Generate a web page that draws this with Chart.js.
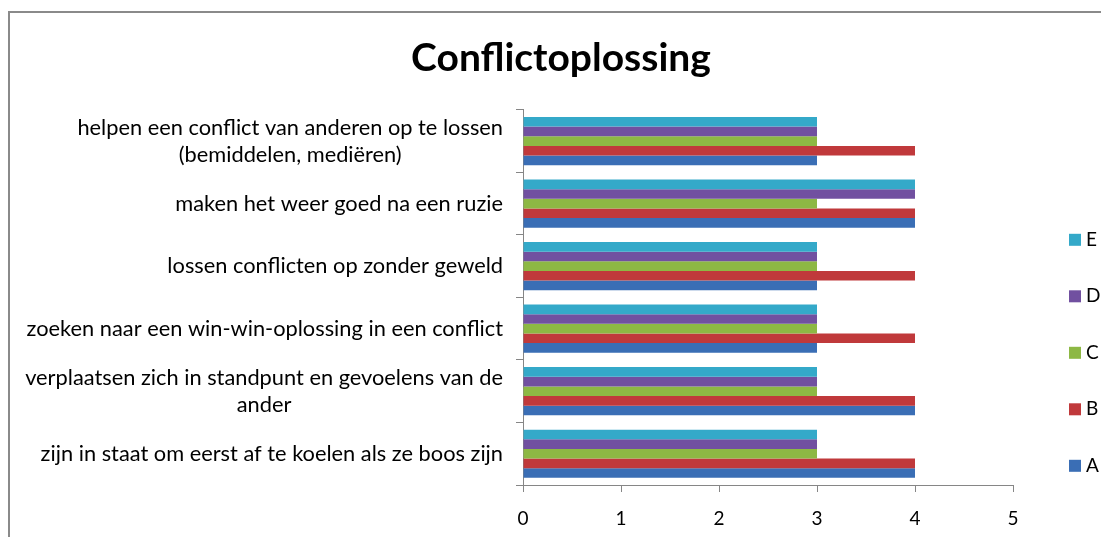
<!DOCTYPE html>
<html>
<head>
<meta charset="utf-8">
<script src="https://cdn.jsdelivr.net/npm/chart.js@4"></script>
<style>
  html, body { margin: 0; padding: 0; background: #fff; overflow: hidden; }
  #frame {
    position: absolute; left: 8px; top: 11px;
    width: 1110px; height: 560px;
    border-left: 2px solid #8a8a8a; border-top: 2px solid #8a8a8a;
  }
  #wrap { position: absolute; left: 0; top: 0; width: 1102px; height: 560px; }
</style>
</head>
<body>
<div id="frame"><div id="wrap"><canvas id="conflictChart"></canvas></div></div>
<script>
// categories, top to bottom as shown
const categories = [
  ['helpen een conflict van anderen op te lossen', '(bemiddelen, mediëren)'],
  'maken het weer goed na een ruzie',
  'lossen conflicten op zonder geweld',
  'zoeken naar een win-win-oplossing in een conflict',
  ['verplaatsen zich in standpunt en gevoelens van de', 'ander'],
  'zijn in staat om eerst af te koelen als ze boos zijn'
];
const seriesA = [3, 4, 3, 3, 4, 4];
const seriesB = [4, 4, 4, 4, 4, 4];
const seriesC = [3, 3, 3, 3, 3, 3];
const seriesD = [3, 4, 3, 3, 3, 3];
const seriesE = [3, 4, 3, 3, 3, 3];
const xTicks = [0, 1, 2, 3, 4, 5];

const FONT = 'Lato';

// category labels, lines centred on each other, block right-aligned to the axis
const yLabelPlugin = {
  id: 'yLabels',
  afterDraw(chart) {
    const ctx = chart.ctx;
    const yScale = chart.scales.y;
    ctx.save();
    ctx.font = '21.8px ' + FONT;
    ctx.fillStyle = '#000';
    ctx.textBaseline = 'middle';
    ctx.textAlign = 'center';
    chart.data.labels.forEach((label, i) => {
      const lines = Array.isArray(label) ? label : [label];
      const maxW = Math.max(...lines.map(l => ctx.measureText(l).width));
      const cx = yScale.right - 20 - maxW / 2;
      const cy = yScale.getPixelForValue(i);
      lines.forEach((l, j) => {
        ctx.fillText(l, cx, cy + (j - (lines.length - 1) / 2) * 27);
      });
    });
    ctx.restore();
  }
};

// legend on the right, spaced out like the original
const sideLegend = {
  id: 'sideLegend',
  afterDraw(chart) {
    const ctx = chart.ctx;
    const area = chart.chartArea;
    ctx.save();
    ctx.font = '19px ' + FONT;
    ctx.textBaseline = 'middle';
    ctx.textAlign = 'left';
    chart.data.datasets.forEach((ds, i) => {
      const y = area.top + 130 + i * 56.5;
      const x = area.right + 56;
      ctx.fillStyle = ds.backgroundColor;
      ctx.fillRect(x, y - 6, 12, 12);
      ctx.fillStyle = '#000';
      ctx.fillText(ds.label, x + 17, y);
    });
    ctx.restore();
  }
};

const ctx = document.getElementById('conflictChart').getContext('2d');
const conflictChart = new Chart(ctx, {
  type: 'bar',
  data: {
    labels: categories,
    datasets: [
      { label: 'E', data: seriesE, backgroundColor: '#34a9c9' },
      { label: 'D', data: seriesD, backgroundColor: '#7150a0' },
      { label: 'C', data: seriesC, backgroundColor: '#8db844' },
      { label: 'B', data: seriesB, backgroundColor: '#c0393b' },
      { label: 'A', data: seriesA, backgroundColor: '#3a6eb5' }
    ]
  },
  options: {
    indexAxis: 'y',
    responsive: true,
    maintainAspectRatio: false,
    animation: false,
    layout: { padding: 0 },
    datasets: {
      bar: { categoryPercentage: 0.77, barPercentage: 1.0 }
    },
    scales: {
      x: {
        min: 0,
        max: 5,
        afterBuildTicks: (scale) => { scale.ticks = xTicks.map(v => ({ value: v })); },
        afterFit: (scale) => { scale.height = 88; },
        border: { color: '#868686', width: 1 },
        grid: { drawOnChartArea: false, drawTicks: true, tickLength: 7, color: '#868686' },
        ticks: { color: '#000', font: { family: FONT, size: 19 }, padding: 15 }
      },
      y: {
        afterFit: (scale) => { scale.width = 513; },
        border: { color: '#868686', width: 1 },
        grid: { drawOnChartArea: false, drawTicks: true, tickLength: 7, color: '#868686', offset: true },
        ticks: { display: false }
      },
      // empty right-hand axis that keeps room for the legend
      legendSpace: {
        type: 'category',
        axis: 'y',
        position: 'right',
        afterFit: (scale) => { scale.width = 99; },
        border: { display: false },
        grid: { display: false },
        ticks: { display: false }
      }
    },
    plugins: {
      legend: { display: false },
      tooltip: { enabled: false },
      title: {
        display: true,
        text: 'Conflictoplossing',
        color: '#000',
        font: { family: FONT, size: 39, weight: 'bold' },
        padding: { top: 22, bottom: 28 }
      }
    }
  },
  plugins: [yLabelPlugin, sideLegend]
});
</script>
</body>
</html>
